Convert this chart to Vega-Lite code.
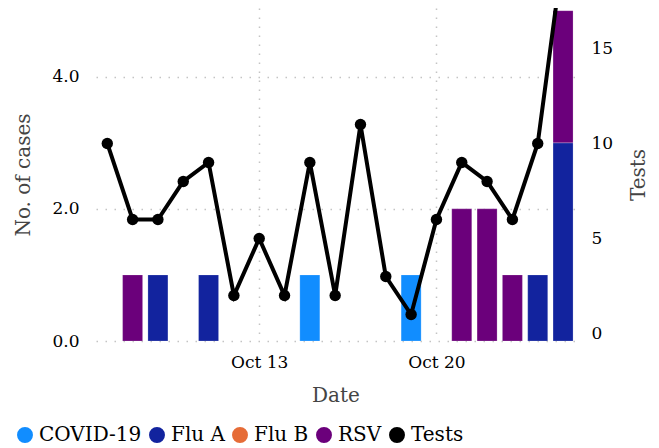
{
  "$schema": "https://vega.github.io/schema/vega-lite/v6.json",
  "width": 479,
  "height": 333,
  "autosize": {"type": "none"},
  "padding": {"left": 96, "top": 8, "right": 84, "bottom": 107},
  "background": "white",
  "config": {
    "view": {"stroke": null},
    "font": "'DejaVu Serif', 'Liberation Serif', 'Noto Serif', serif",
    "axis": {
      "labelFont": "'DejaVu Serif', 'Liberation Serif', 'Noto Serif', serif",
      "titleFont": "'DejaVu Serif', 'Liberation Serif', 'Noto Serif', serif",
      "labelFontSize": 17,
      "titleFontSize": 20,
      "titleFontWeight": "normal",
      "labelColor": "#000000",
      "titleColor": "#444444",
      "domain": false,
      "ticks": false,
      "gridColor": "#c4c4c4",
      "gridDash": [1.5, 7.5],
      "gridWidth": 1.5
    }
  },
  "datasets": {
    "cases": [
      {"date": "2024-10-08", "pathogen": "RSV", "cases": 1},
      {"date": "2024-10-09", "pathogen": "Flu A", "cases": 1},
      {"date": "2024-10-11", "pathogen": "Flu A", "cases": 1},
      {"date": "2024-10-15", "pathogen": "COVID-19", "cases": 1},
      {"date": "2024-10-19", "pathogen": "COVID-19", "cases": 1},
      {"date": "2024-10-21", "pathogen": "RSV", "cases": 2},
      {"date": "2024-10-22", "pathogen": "RSV", "cases": 2},
      {"date": "2024-10-23", "pathogen": "RSV", "cases": 1},
      {"date": "2024-10-24", "pathogen": "Flu A", "cases": 1},
      {"date": "2024-10-25", "pathogen": "Flu A", "cases": 3},
      {"date": "2024-10-25", "pathogen": "RSV", "cases": 2}
    ],
    "tests": [
      {"date": "2024-10-07", "tests": 10},
      {"date": "2024-10-08", "tests": 6},
      {"date": "2024-10-09", "tests": 6},
      {"date": "2024-10-10", "tests": 8},
      {"date": "2024-10-11", "tests": 9},
      {"date": "2024-10-12", "tests": 2},
      {"date": "2024-10-13", "tests": 5},
      {"date": "2024-10-14", "tests": 2},
      {"date": "2024-10-15", "tests": 9},
      {"date": "2024-10-16", "tests": 2},
      {"date": "2024-10-17", "tests": 11},
      {"date": "2024-10-18", "tests": 3},
      {"date": "2024-10-19", "tests": 1},
      {"date": "2024-10-20", "tests": 6},
      {"date": "2024-10-21", "tests": 9},
      {"date": "2024-10-22", "tests": 8},
      {"date": "2024-10-23", "tests": 6},
      {"date": "2024-10-24", "tests": 10},
      {"date": "2024-10-25", "tests": 20}
    ]
  },
  "encoding": {
    "x": {
      "field": "date",
      "type": "temporal",
      "scale": {"type": "utc", "domain": ["2024-10-06T13:18:00Z", "2024-10-25T11:20:00Z"], "nice": false, "padding": 0},
      "axis": {
        "title": "Date",
        "format": "%b %d",
        "values": [
          {"year": 2024, "month": 10, "date": 13, "utc": true},
          {"year": 2024, "month": 10, "date": 20, "utc": true}
        ],
        "labelPadding": 13,
        "titlePadding": 15,
        "grid": true
      }
    }
  },
  "layer": [
    {
      "data": {"name": "cases"},
      "mark": {"type": "bar", "size": 20, "stroke": "#ffffff", "strokeWidth": 0.5, "strokeOpacity": 0.4},
      "encoding": {
        "y": {
          "field": "cases",
          "type": "quantitative",
          "aggregate": "sum",
          "stack": "zero",
          "scale": {"domain": [0, 5.04], "nice": false, "zero": false},
          "axis": {
            "title": "No. of cases",
            "orient": "left",
            "values": [0, 2, 4],
            "format": ".1f",
            "grid": true,
            "labelPadding": 17,
            "titlePadding": 18
          }
        },
        "order": {"field": "pathogen", "sort": "ascending"},
        "color": {
          "field": "pathogen",
          "type": "nominal",
          "scale": {
            "domain": ["COVID-19", "Flu A", "Flu B", "RSV", "Tests"],
            "range": ["#118DFF", "#12239E", "#E66C37", "#6B007B", "#000000"]
          },
          "legend": {
            "orient": "none",
            "direction": "horizontal",
            "legendX": -81,
            "legendY": 417,
            "title": null,
            "symbolType": "circle",
            "symbolSize": 254,
            "symbolStrokeWidth": 0,
            "labelFont": "'DejaVu Serif', 'Liberation Serif', 'Noto Serif', serif",
            "labelFontSize": 20,
            "labelColor": "#000000",
            "labelOffset": 4,
            "columnPadding": 5,
            "symbolOpacity": 1
          }
        }
      }
    },
    {
      "data": {"name": "tests"},
      "encoding": {
        "y": {
          "field": "tests",
          "type": "quantitative",
          "scale": {"domain": [-0.395, 17.13], "nice": false, "zero": false},
          "axis": {
            "title": "Tests",
            "orient": "right",
            "values": [0, 5, 10, 15],
            "grid": false,
            "labelPadding": 16,
            "titleAngle": 270,
            "titlePadding": 36
          }
        }
      },
      "layer": [
        {"mark": {"type": "line", "color": "#000000", "strokeWidth": 4, "clip": true}},
        {"mark": {"type": "point", "filled": true, "color": "#000000", "size": 130, "opacity": 1, "clip": true}}
      ]
    }
  ],
  "resolve": {"scale": {"y": "independent"}}
}
